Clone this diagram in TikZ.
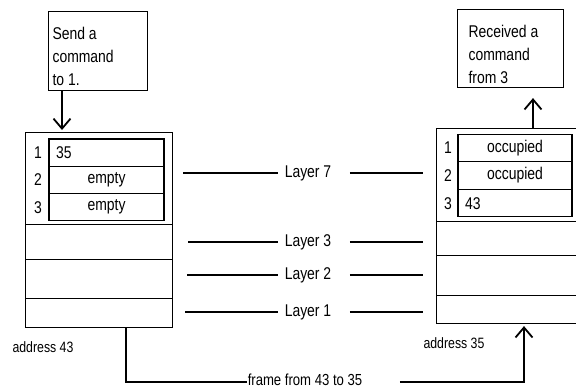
\documentclass[tikz,border=0pt]{standalone}
\usepackage{fontspec}
\setmainfont{Liberation Sans}[FakeStretch=0.82]
\usetikzlibrary{arrows.meta,positioning}

\tikzset{
	sect/.style={draw, anchor=north west, inner sep=0pt},
	cell/.style={draw, inner xsep=7pt, inner ysep=0pt, minimum height=27.3pt},
	tag/.style={inner sep=0pt},
	arr/.style={-{Straight Barb[length=10pt,width=17pt,line width=1.8pt]}}
}

\begin{document}
\begin{tikzpicture}[x=1pt, y=-1pt, line width=1.1pt, font=\fontsize{17}{23}\selectfont]
	\useasboundingbox (0,0) rectangle (576,389);
	% command boxes
	\node[sect, minimum width=99pt, minimum height=79pt] (send) at (48,11) {};
	\node[tag, anchor=south west, align=left] (sendtxt) at ([xshift=4pt,yshift=5pt]send.south west) {Send a\\command\\to 1.};
	\node[sect, minimum width=106pt, minimum height=78pt] (recv) at (457,9) {};
	\node[tag, anchor=south west, align=left] (recvtxt) at ([xshift=11pt,yshift=4pt]recv.south west) {Received a\\command\\from 3};
	% left stack (address 43)
	\node[sect, minimum width=147pt, minimum height=92pt] (l7) at (25,132) {};
	\node[sect, minimum width=147pt, minimum height=35pt] (l3) at (25,224) {};
	\node[sect, minimum width=147pt, minimum height=39pt] (l2) at (25,259) {};
	\node[sect, minimum width=147pt, minimum height=29pt] (l1) at (25,298) {};
	\foreach \i/\txt/\al in {1/35/left, 2/empty/center, 3/empty/center} {
		\node[cell, text width=101pt, align=\al] (L\i) at (106.5,{139+27.3*(\i-0.5)}) {\txt};
		\node[tag, left=6pt of L\i] (nl\i) {\i};
	}
	% right stack (address 35)
	\node[sect, minimum width=142pt, minimum height=93pt] (r7) at (436,128) {};
	\node[sect, minimum width=142pt, minimum height=34pt] (r3) at (436,221) {};
	\node[sect, minimum width=142pt, minimum height=40pt] (r2) at (436,255) {};
	\node[sect, minimum width=142pt, minimum height=28pt] (r1) at (436,295) {};
	\foreach \i/\txt/\al in {1/occupied/center, 2/occupied/center, 3/43/left} {
		\node[cell, text width=100pt, align=\al] (R\i) at (515,{134+27.7*(\i-0.5)}) {\txt};
		\node[tag, left=5pt of R\i] (nr\i) {\i};
	}
	% layers
	\foreach \n/\y/\a in {7/173/183, 3/242/188, 2/275/187, 1/312/185} {
		\node[tag] (lay\n) at (308,\y) {Layer \n};
		\draw (\a,\y) -- ([xshift=-6pt]lay\n.west);
		\draw ([xshift=18pt]lay\n.east) -- (423,\y);
	}
	\node[tag, anchor=west, font=\fontsize{15}{17}\selectfont] (addr43) at (12,347) {address 43};
	\node[tag, anchor=west, font=\fontsize{15}{17}\selectfont] (addr35) at (423,343) {address 35};
	\node[tag, font=\fontsize{16}{18}\selectfont] (frame) at (305,380) {frame from 43 to 35};
	% arrows
	\draw[arr] ([xshift=14pt]send.south west) -- ([xshift=37pt,yshift=2pt]l7.north west);
	\draw[arr] ([xshift=97pt]r7.north west) -- ([xshift=76pt,yshift=-10pt]recv.south west);
	\draw ([xshift=101pt]l1.south west) |- ([yshift=-2pt]frame.west);
	\draw[arr] ([xshift=37pt,yshift=-2pt]frame.east) -| ([xshift=88pt,yshift=-2pt]r1.south west);
\end{tikzpicture}
\end{document}
